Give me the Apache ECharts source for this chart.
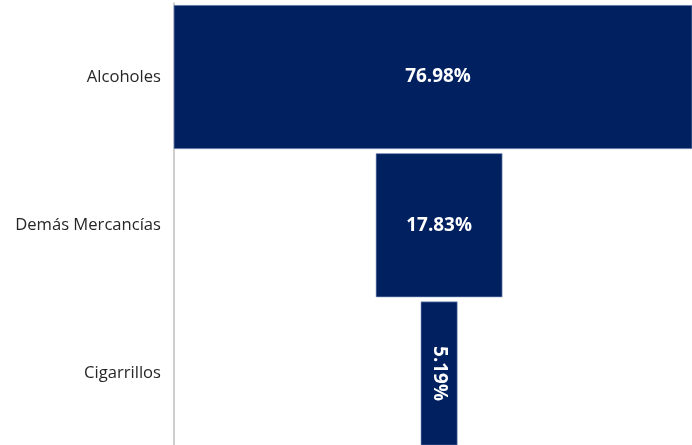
<!DOCTYPE html>
<html>
<head>
<meta charset="utf-8">
<script src="https://cdn.jsdelivr.net/npm/echarts@6/dist/echarts.min.js"></script>
<style>
html,body{margin:0;padding:0;background:#fff;}
#chart{width:692px;height:445px;}
</style>
</head>
<body>
<div id="chart"></div>
<script>
const categories = ['Alcoholes', 'Demás Mercancías', 'Cigarrillos'];
const shares = [76.98, 17.83, 5.19];
const labelTexts = ['76.98%', '17.83%', '5.19%'];

const full = 100;
const offsets = shares.map(v => (full - v) / 2);

const chart = echarts.init(document.getElementById('chart'), null, {renderer: 'canvas'});
const navy = '#002060';
chart.setOption({
  animation: false,
  grid: {left: 174, top: 2.9, width: 518, height: 444.75, outerBoundsMode: 'none'},
  xAxis: {
    type: 'value',
    min: 12.68,
    max: 85.6,
    show: false,
    splitLine: {show: false}
  },
  yAxis: {
    type: 'category',
    inverse: true,
    data: categories,
    axisLine: {show: true, lineStyle: {color: '#bfbfbf', width: 1.5}},
    axisTick: {show: false},
    axisLabel: {
      margin: 13,
      fontFamily: 'Open Sans',
      fontSize: 16.6,
      color: '#262626'
    }
  },
  series: [
    {
      type: 'bar',
      stack: 'f',
      data: offsets,
      itemStyle: {color: 'transparent'},
      barCategoryGap: '2.9%',
      silent: true
    },
    {
      type: 'bar',
      stack: 'f',
      data: shares.map((v, i) => ({
        value: v,
        label: i === 2 ? {rotate: -90} : (i === 0 ? {offset: [5, 0]} : {})
      })),
      barCategoryGap: '2.9%',
      itemStyle: {color: navy, borderColor: '#8ea3c8', borderWidth: 0.6},
      label: {
        show: true,
        position: 'inside',
        color: '#ffffff',
        fontFamily: 'Open Sans',
        fontWeight: 'bold',
        fontSize: 18.9,
        formatter: p => labelTexts[p.dataIndex]
      }
    }
  ]
});
</script>
</body>
</html>
